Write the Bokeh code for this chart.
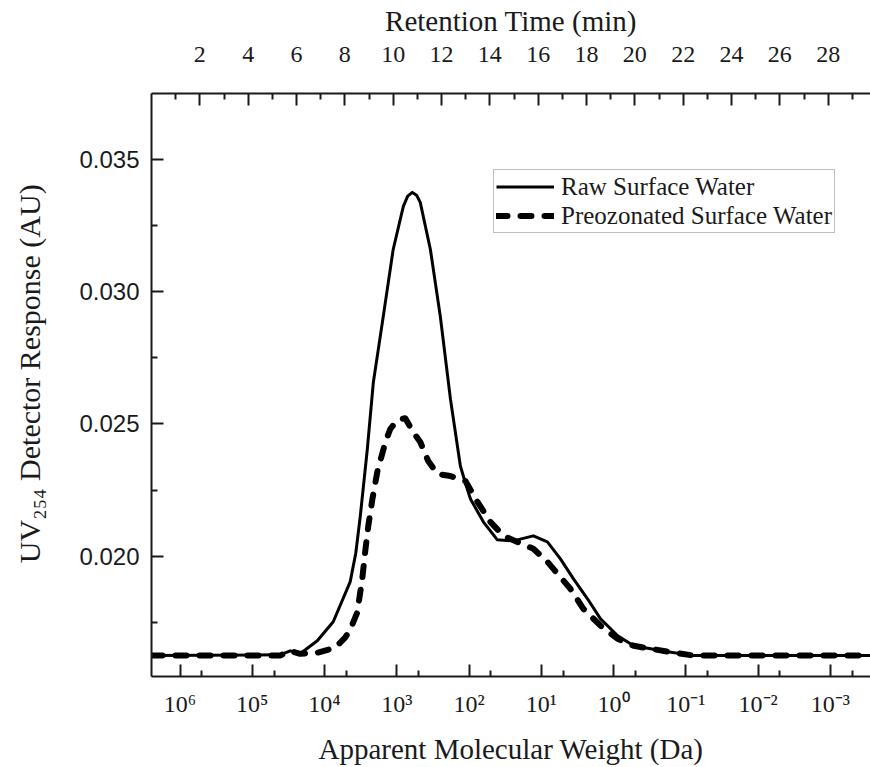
from bokeh.plotting import figure
from bokeh.models import (Range1d, LinearAxis, FixedTicker, PrintfTickFormatter,
                          Legend, LegendItem)
from bokeh.embed import file_html
from bokeh.resources import INLINE

# ---------------- data ----------------
# retention time (min) and UV254 response (AU)
time_raw = [0.0, 5.32, 5.74, 6.15, 6.86, 7.52, 8.22, 8.45, 8.64, 8.93, 9.18,
            9.59, 10.00, 10.42, 10.60, 10.79, 10.98, 11.12, 11.54, 11.95, 12.37, 12.78, 13.00, 13.20,
            13.73, 14.31, 14.97, 15.80, 16.38, 16.92, 17.46, 18.04, 18.58, 19.29,
            19.95, 21.36, 22.43, 29.75]
resp_raw = [0.01624, 0.01627, 0.01642, 0.01631, 0.01680, 0.01752, 0.01903, 0.02010, 0.02152, 0.02405, 0.02658,
            0.02907, 0.03160, 0.03323, 0.03362, 0.03376, 0.03364, 0.03338, 0.03160, 0.02907, 0.02594, 0.02341, 0.02273, 0.02216,
            0.02130, 0.02062, 0.02058, 0.02077, 0.02054, 0.01990, 0.01914, 0.01839, 0.01763, 0.01699,
            0.01661, 0.01639, 0.01624, 0.01624]

time_oz = [0.0, 5.32, 5.74, 6.15, 6.86, 7.60, 8.01, 8.22, 8.51, 8.72,
           8.84, 8.97, 9.14, 9.35, 9.68, 9.88, 10.17, 10.50, 10.83, 11.12,
           11.45, 11.83, 12.37, 12.99, 13.49, 14.02, 14.56, 15.14, 15.80, 16.38,
           16.63, 17.33, 17.87, 18.58, 19.28, 19.95, 21.36, 22.43, 29.75]
resp_oz = [0.01624, 0.01624, 0.01642, 0.01631, 0.01635, 0.01654, 0.01692, 0.01722, 0.01786, 0.01914,
           0.02016, 0.02114, 0.02216, 0.02322, 0.02432, 0.02481, 0.02515, 0.02522, 0.02469, 0.02432,
           0.02360, 0.02311, 0.02303, 0.02284, 0.02205, 0.02130, 0.02077, 0.02054, 0.02028, 0.01979,
           0.01952, 0.01877, 0.01801, 0.01737, 0.01688, 0.01661, 0.01639, 0.01624, 0.01624]

series_labels = ["Raw Surface Water", "Preozonated Surface Water"]

time_ticks = [2, 4, 6, 8, 10, 12, 14, 16, 18, 20, 22, 24, 26, 28]
time_minor = [1, 3, 5, 7, 9, 11, 13, 15, 17, 19, 21, 23, 25, 27, 29]
y_ticks = [0.020, 0.025, 0.030, 0.035]
y_minor = [0.0175, 0.0225, 0.0275, 0.0325]

mw_exponents = [6, 5, 4, 3, 2, 1, 0, -1, -2, -3]
mw_labels = ["10\u2076", "10\u2075", "10\u2074", "10\u00b3", "10\u00b2", "10\u00b9",
             "10\u2070", "10\u207b\u00b9", "10\u207b\u00b2", "10\u207b\u00b3"]

# calibration between retention time and log10(MW)
T_AT_1E6 = 1.18
MIN_PER_DECADE = 2.99
T_MIN, T_MAX = 0.0, 29.75


def log_mw(t):
    return 6 - (t - T_AT_1E6) / MIN_PER_DECADE


SERIF = "Liberation Serif"
SANS = "Liberation Sans"
INK = "#1a1a1a"

p = figure(width=870, height=767,
           x_range=Range1d(T_MIN, T_MAX), y_range=Range1d(0.01545, 0.0375),
           x_axis_location="above",
           output_backend="svg", toolbar_location=None,
           min_border_left=151, min_border_right=0,
           min_border_top=93, min_border_bottom=89)
p.outline_line_color = None
p.xgrid.visible = False
p.ygrid.visible = False
p.background_fill_color = "white"
p.border_fill_color = "white"


def style_axis(ax, label_font, label_size):
    ax.axis_line_color = INK
    ax.axis_line_width = 2
    ax.major_tick_line_color = INK
    ax.major_tick_line_width = 2
    ax.minor_tick_line_color = INK
    ax.minor_tick_line_width = 2
    ax.major_tick_in = 12
    ax.major_tick_out = 0
    ax.minor_tick_in = 6
    ax.minor_tick_out = 0
    ax.major_label_text_font = label_font
    ax.major_label_text_font_size = label_size
    ax.major_label_text_color = INK
    ax.axis_label_text_font = SERIF
    ax.axis_label_text_font_size = "29px"
    ax.axis_label_text_font_style = "normal"
    ax.axis_label_text_color = INK


# top axis: retention time
top = p.xaxis[0]
top.ticker = FixedTicker(ticks=time_ticks, minor_ticks=time_minor)
top.axis_label = "Retention Time (min)"
style_axis(top, SERIF, "24px")
top.major_label_standoff = 32
top.axis_label_standoff = 7

# bottom axis: apparent molecular weight
p.extra_x_ranges = {"mw": Range1d(start=log_mw(T_MIN), end=log_mw(T_MAX))}
bottom = LinearAxis(x_range_name="mw",
                    ticker=FixedTicker(ticks=mw_exponents,
                                       minor_ticks=[e - 0.301 for e in mw_exponents]),
                    major_label_overrides={e: s for e, s in zip(mw_exponents, mw_labels)},
                    axis_label="Apparent Molecular Weight (Da)")
style_axis(bottom, SERIF, "24px")
bottom.major_label_standoff = 14
bottom.axis_label_standoff = 13
p.add_layout(bottom, "below")

# left axis
left = p.yaxis[0]
left.ticker = FixedTicker(ticks=y_ticks, minor_ticks=y_minor)
left.formatter = PrintfTickFormatter(format="%.3f")
left.axis_label = "\u00a0\u00a0\u00a0UV\u2082\u2085\u2084 Detector Response (AU)"
style_axis(left, SANS, "24px")
left.axis_label_text_font_size = "30px"
left.major_label_standoff = 12
left.axis_label_standoff = 30

r_raw = p.line(time_raw, resp_raw, line_color="black", line_width=3, line_join="round")
r_oz = p.line(time_oz, resp_oz, line_color="black", line_width=6,
              line_dash="11 13", line_cap="round", line_join="round")

legend = Legend(items=[LegendItem(label=series_labels[0], renderers=[r_raw]),
                       LegendItem(label=series_labels[1], renderers=[r_oz])],
                location=(342, 443), orientation="vertical",
                border_line_color="#808080", border_line_width=1.5,
                padding=2, spacing=0, margin=0,
                glyph_width=58, glyph_height=29, label_height=29,
                label_standoff=7, label_text_font=SERIF,
                label_text_font_size="25px", label_text_color=INK,
                background_fill_color="white", background_fill_alpha=1)
p.add_layout(legend)

open("out.html", "w").write(file_html(p, INLINE))
